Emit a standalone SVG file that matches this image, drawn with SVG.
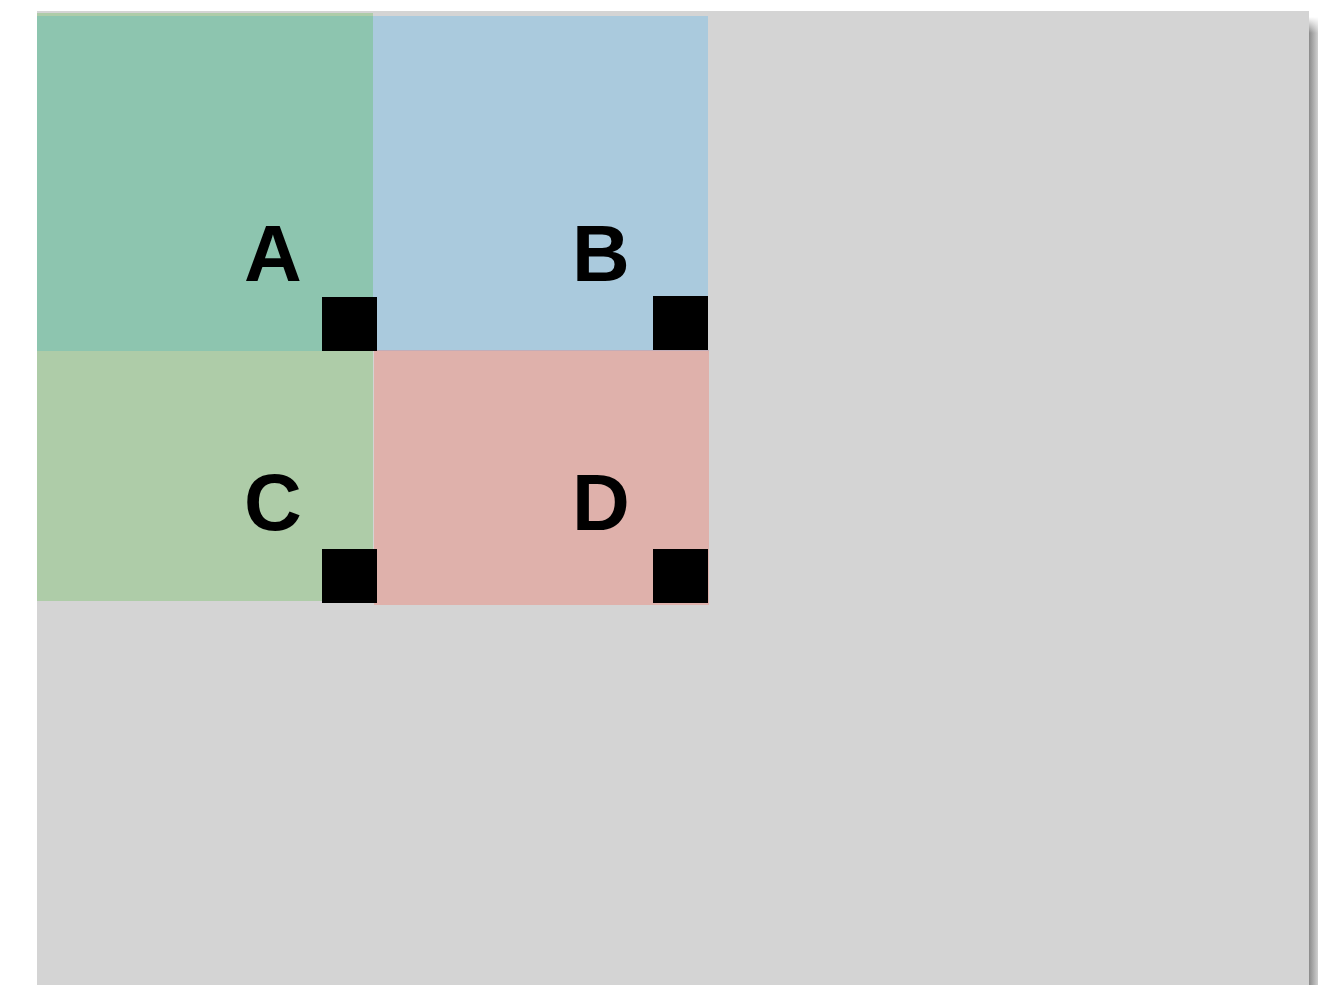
<svg xmlns="http://www.w3.org/2000/svg" width="1318" height="985" viewBox="0 0 1318 985">
<style>
.lbl{font-family:"Liberation Sans",Arial,sans-serif;font-weight:bold;font-size:80px;text-anchor:middle;fill:#000}
.port{fill:#000}
</style>
<defs>
<linearGradient id="sh" x1="0" y1="0" x2="1" y2="0">
<stop offset="0" stop-color="#8a8a8a"/>
<stop offset="1" stop-color="#cfcfcf"/>
</linearGradient>
<linearGradient id="shTop" x1="0" y1="0" x2="0" y2="1">
<stop offset="0" stop-color="#ffffff" stop-opacity="1"/>
<stop offset="1" stop-color="#ffffff" stop-opacity="0"/>
</linearGradient>
</defs>
<rect x="0" y="0" width="1318" height="985" fill="#ffffff"/>
<rect x="1309" y="17" width="9" height="968" fill="url(#sh)"/>
<rect x="1309" y="17" width="9" height="16" fill="url(#shTop)"/>
<rect x="37" y="11" width="1272" height="974" fill="#d4d4d4"/>
<g id="nodeA">
<rect x="37" y="13" width="336" height="3" fill="#aecca8"/>
<rect x="37" y="16" width="336" height="335" fill="#8dc5af"/>
<text class="lbl" x="273" y="281">A</text>
</g>
<g id="nodeB">
<rect x="373" y="16" width="335" height="334" fill="#aacadd"/>
<text class="lbl" x="601" y="281">B</text>
</g>
<g id="nodeC">
<rect x="37" y="351" width="336" height="250" fill="#aecca8"/>
<text class="lbl" x="273" y="530">C</text>
</g>
<g id="nodeD">
<rect x="374" y="350" width="335" height="255" fill="#dfb1ab"/>
<rect x="374" y="350" width="335" height="1" fill="#c3adb8"/>
<text class="lbl" x="601" y="530">D</text>
</g>
<g id="connectors">
<rect class="port" x="322" y="297" width="55" height="54"/>
<rect class="port" x="653" y="296" width="55" height="54"/>
<rect class="port" x="322" y="549" width="55" height="54"/>
<rect class="port" x="653" y="549" width="55" height="54"/>
</g>
</svg>
